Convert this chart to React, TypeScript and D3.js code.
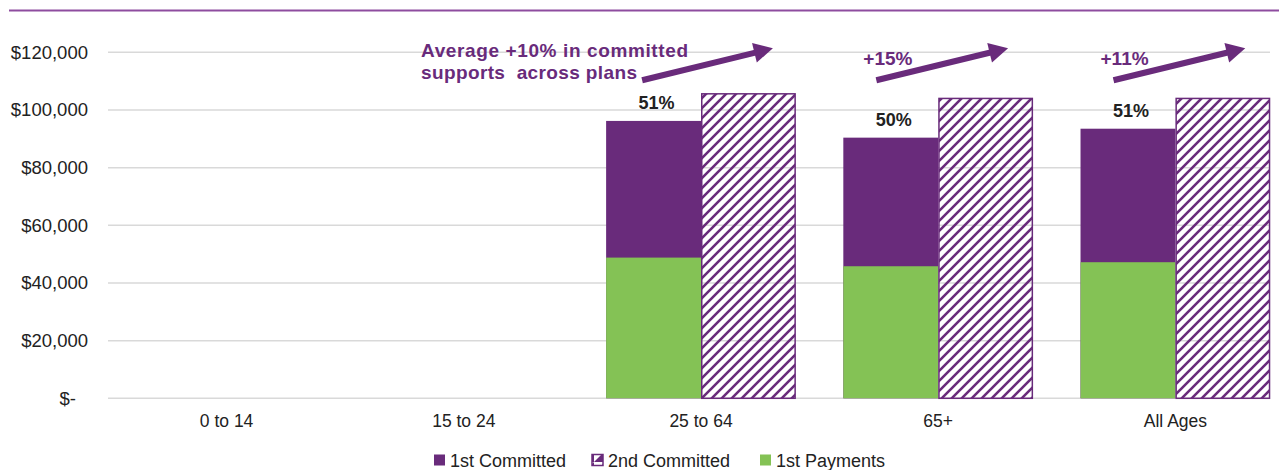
import React from "react";
import * as d3 from "d3";

const categories = ["0 to 14", "15 to 24", "25 to 64", "65+", "All Ages"];
const firstCommitted: (number | null)[] = [null, null, 96200, 90400, 93500];
const secondCommitted: (number | null)[] = [null, null, 105600, 104000, 104000];
const firstPayments: (number | null)[] = [null, null, 48800, 45800, 47200];
const shareLabels = ["", "", "51%", "50%", "51%"];
const growthLabels: string[][] = [[], [], ["Average +10% in committed", "supports  across plans"], ["+15%"], ["+11%"]];
const yTicks = [0, 20000, 40000, 60000, 80000, 100000, 120000];
const legendItems = ["1st Committed", "2nd Committed", "1st Payments"];

const W = 1279;
const H = 470;
const PURPLE = "#692b7b";
const GREEN = "#84c255";
const GRID = "#d9d9d9";
const FONT = "'Liberation Sans', Arial, sans-serif";

export default function App() {
  const x = d3.scaleBand<string>().domain(categories).range([108, 1294]).paddingInner(0.2).paddingOuter(0.1);
  const y = d3.scaleLinear().domain([0, 120000]).range([398.3, 52.3]);
  const bw = x.bandwidth() / 2;
  const fmt = (v: number) => (v === 0 ? "$-" : "$" + d3.format(",")(v));

  const arrow = (x0: number, y0: number, x1: number, y1: number, key: string) => {
    const dx = x1 - x0, dy = y1 - y0;
    const L = Math.hypot(dx, dy);
    const ux = dx / L, uy = dy / L;
    const hl = 19, hw = 10;
    const bx = x1 - ux * hl, by = y1 - uy * hl;
    const px = -uy, py = ux;
    return (
      <g key={key}>
        <line x1={x0} y1={y0} x2={bx + ux * 2} y2={by + uy * 2} stroke={PURPLE} strokeWidth={6} />
        <path d={`M${x1},${y1} L${bx + px * hw},${by + py * hw} L${bx - px * hw},${by - py * hw} Z`} fill={PURPLE} />
      </g>
    );
  };

  return (
    <svg width={W} height={H} style={{ display: "block", position: "absolute", left: 0, top: 0 }} fontFamily={FONT}>
      <defs>
        <pattern id="hatch" patternUnits="userSpaceOnUse" width={10} height={10}>
          <path d="M-2.5,2.5 L2.5,-2.5 M0,10 L10,0 M7.5,12.5 L12.5,7.5" stroke={PURPLE} strokeWidth={2.6} />
        </pattern>
        <pattern id="hatchLegend" patternUnits="userSpaceOnUse" width={11} height={11}>
          <rect width={11} height={11} fill="#fff" />
          <path d="M0,11 L11,0 L11,11 Z" fill={PURPLE} />
        </pattern>
      </defs>
      <rect width={W} height={H} fill="#fff" />
      <line x1={9} x2={W} y1={10.5} y2={10.5} stroke="#8e4c9f" strokeWidth={2} />

      {yTicks.map((t) => (
        <g key={t}>
          <line x1={108} x2={1270} y1={y(t)} y2={y(t)} stroke={GRID} strokeWidth={1.5} />
          <text x={t === 0 ? 76 : 88} y={y(t)} dy="0.35em" textAnchor="end" fontSize={18.5} fill="#222">
            {fmt(t)}
          </text>
        </g>
      ))}

      {categories.map((c, i) => {
        const x0 = x(c)!;
        const fc = firstCommitted[i];
        const sc = secondCommitted[i];
        const fp = firstPayments[i];
        return (
          <g key={c}>
            {fc != null && <rect x={x0} y={y(fc)} width={bw} height={y(0) - y(fc)} fill={PURPLE} />}
            {fp != null && <rect x={x0} y={y(fp)} width={bw} height={y(0) - y(fp)} fill={GREEN} />}
            {sc != null && (
              <rect x={x0 + bw + 0.75} y={y(sc)} width={bw - 1.5} height={y(0) - y(sc)} fill="url(#hatch)" stroke={PURPLE} strokeWidth={1.5} />
            )}
            {fc != null && (
              <text x={x0 + bw / 2 + 3} y={y(fc) - 12} textAnchor="middle" fontSize={18} fontWeight="bold" fill="#222">
                {shareLabels[i]}
              </text>
            )}
            <text x={x0 + x.bandwidth() / 2} y={427} textAnchor="middle" fontSize={17.5} fill="#222">
              {c}
            </text>
          </g>
        );
      })}

      {categories.map((c, i) => {
        const g = growthLabels[i];
        if (!g.length) return null;
        const x0 = x(c)!;
        const end = x0 + x.bandwidth();
        if (g.length > 1) {
          return (
            <g key={"a" + c}>
              <text x={421} y={57} fontSize={19} fontWeight="bold" fill={PURPLE} textLength={267} lengthAdjust="spacing">
                {g[0]}
              </text>
              <text x={421} y={79} fontSize={19} fontWeight="bold" fill={PURPLE} textLength={216} lengthAdjust="spacing" xmlSpace="preserve">
                {g[1]}
              </text>
              {arrow(x0 + 36, y(110300), end - 23, y(121400), "ar" + c)}
            </g>
          );
        }
        return (
          <g key={"a" + c}>
            <text x={x0 + 20} y={65} fontSize={19} fontWeight="bold" fill={PURPLE}>
              {g[0]}
            </text>
            {arrow(x0 + 33, y(110300), end - 25, y(121400), "ar" + c)}
          </g>
        );
      })}

      {legendItems.map((l, i) => {
        const lx = [434, 592, 760][i];
        const fill = i === 0 ? PURPLE : i === 1 ? "url(#hatchLegend)" : GREEN;
        return (
          <g key={l}>
            <rect x={lx} y={454.5} width={11} height={11} fill={fill} stroke={i === 1 ? PURPLE : "none"} strokeWidth={1.5} />
            <text x={lx + 16} y={467} fontSize={18} fill="#222">
              {l}
            </text>
          </g>
        );
      })}
    </svg>
  );
}
